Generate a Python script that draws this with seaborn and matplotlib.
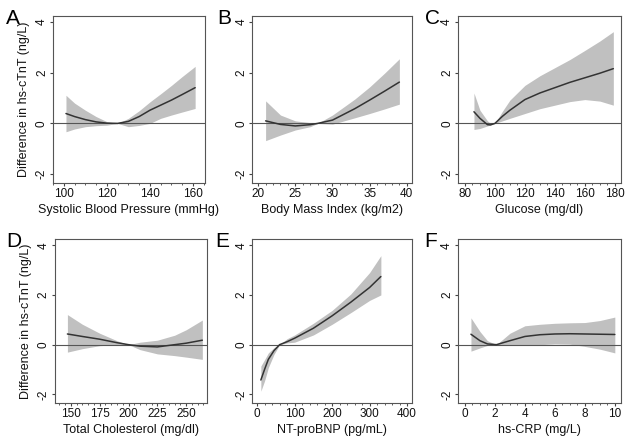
import pandas as pd
import matplotlib.pyplot as plt
import matplotlib.ticker as mticker
import seaborn as sns

sns.set_theme(style="ticks")
plt.rcParams['font.family'] = ['Liberation Sans', 'DejaVu Sans']
plt.rcParams['text.color'] = '#111111'
plt.rcParams['axes.labelcolor'] = '#111111'
plt.rcParams['xtick.labelcolor'] = '#111111'
plt.rcParams['ytick.labelcolor'] = '#111111'

# Panel A: systolic blood pressure
sbp_x = [101, 105, 110, 115, 120, 125, 130, 135, 140, 145, 150, 155, 161]
sbp_fit = [0.39, 0.27, 0.15, 0.06, 0.01, 0.0, 0.08, 0.27, 0.52, 0.72, 0.92, 1.14, 1.41]
sbp_lo = [-0.33, -0.22, -0.13, -0.09, -0.07, 0.0, -0.13, -0.08, 0.0, 0.2, 0.33, 0.45, 0.59]
sbp_hi = [1.11, 0.8, 0.52, 0.27, 0.07, 0.0, 0.2, 0.5, 0.85, 1.17, 1.5, 1.85, 2.25]

# Panel B: body mass index
bmi_x = [21, 23, 25, 27, 28, 30, 33, 35, 37, 39]
bmi_fit = [0.1, -0.04, -0.1, -0.05, 0.0, 0.13, 0.58, 0.92, 1.27, 1.63]
bmi_lo = [-0.68, -0.46, -0.26, -0.13, 0.0, -0.03, 0.22, 0.39, 0.57, 0.76]
bmi_hi = [0.89, 0.33, 0.1, 0.03, 0.0, 0.33, 0.96, 1.44, 1.98, 2.55]

# Panel C: glucose
glu_x = [86, 90, 95, 97, 100, 105, 110, 120, 130, 140, 150, 160, 170, 179]
glu_fit = [0.46, 0.2, -0.05, -0.06, 0.0, 0.28, 0.52, 0.94, 1.2, 1.41, 1.62, 1.8, 1.98, 2.16]
glu_lo = [-0.24, -0.2, -0.1, -0.06, 0.0, 0.1, 0.2, 0.39, 0.58, 0.72, 0.86, 0.94, 0.88, 0.72]
glu_hi = [1.2, 0.52, 0.1, 0.0, 0.0, 0.48, 0.92, 1.5, 1.88, 2.2, 2.52, 2.88, 3.25, 3.62]

# Panel D: total cholesterol
chol_x = [147, 160, 175, 190, 200, 210, 225, 240, 250, 264]
chol_fit = [0.43, 0.33, 0.22, 0.08, 0.0, -0.06, -0.09, 0.0, 0.06, 0.18]
chol_lo = [-0.3, -0.16, -0.04, 0.0, 0.0, -0.2, -0.37, -0.44, -0.5, -0.59]
chol_hi = [1.21, 0.82, 0.46, 0.16, 0.0, 0.1, 0.18, 0.38, 0.6, 0.99]

# Panel E: NT-proBNP
bnp_x = [10, 20, 30, 45, 60, 80, 100, 150, 200, 250, 300, 330]
bnp_fit = [-1.42, -0.99, -0.59, -0.24, 0.0, 0.12, 0.26, 0.66, 1.16, 1.71, 2.3, 2.74]
bnp_lo = [-1.87, -1.45, -0.92, -0.39, 0.0, 0.07, 0.1, 0.39, 0.82, 1.29, 1.78, 2.0]
bnp_hi = [-0.86, -0.6, -0.33, -0.12, 0.0, 0.24, 0.39, 0.86, 1.38, 2.04, 2.9, 3.58]

# Panel F: hs-CRP
crp_x = [0.4, 1.0, 1.5, 2.1, 3.0, 4.0, 5.0, 6.0, 7.0, 8.0, 9.0, 10.0]
crp_fit = [0.42, 0.16, 0.03, 0.0, 0.16, 0.33, 0.4, 0.43, 0.44, 0.43, 0.42, 0.41]
crp_lo = [-0.26, -0.13, -0.03, 0.0, -0.03, -0.03, 0.0, 0.03, 0.02, -0.07, -0.18, -0.33]
crp_hi = [1.08, 0.53, 0.16, 0.0, 0.46, 0.76, 0.82, 0.86, 0.88, 0.89, 0.97, 1.11]

panels = [
    ("A", sbp_x, sbp_fit, sbp_lo, sbp_hi, "Systolic Blood Pressure (mmHg)", (94.9, 165.6), [100, 120, 140, 160], 5),
    ("B", bmi_x, bmi_fit, bmi_lo, bmi_hi, "Body Mass Index (kg/m2)", (19.2, 40.7), [20, 25, 30, 35, 40], 1),
    ("C", glu_x, glu_fit, glu_lo, glu_hi, "Glucose (mg/dl)", (75.3, 184), [80, 100, 120, 140, 160, 180], 5),
    ("D", chol_x, chol_fit, chol_lo, chol_hi, "Total Cholesterol (mg/dl)", (136, 268), [150, 175, 200, 225, 250], 5),
    ("E", bnp_x, bnp_fit, bnp_lo, bnp_hi, "NT-proBNP (pg/mL)", (-13, 413), [0, 100, 200, 300, 400], 20),
    ("F", crp_x, crp_fit, crp_lo, crp_hi, "hs-CRP (mg/L)", (-0.47, 10.4), [0, 2, 4, 6, 8, 10], 0.5),
]

# axes rectangles [left, bottom, width, height] in figure fractions
rects = [
    [0.084, 0.587, 0.242, 0.377],
    [0.401, 0.587, 0.254, 0.377],
    [0.728, 0.587, 0.259, 0.377],
    [0.087, 0.090, 0.242, 0.370],
    [0.401, 0.090, 0.254, 0.370],
    [0.728, 0.090, 0.259, 0.370],
]
# panel letter offsets (axes fraction)
letter_x = [-0.31, -0.22, -0.205, -0.32, -0.23, -0.205]

fig = plt.figure(figsize=(6.29, 4.43), dpi=100)

for i, (letter, x, fit, lo, hi, xlabel, xlim, xticks, minor) in enumerate(panels):
    ax = fig.add_axes(rects[i])
    df = pd.DataFrame({"x": x, "fit": fit})
    ax.fill_between(x, lo, hi, color="#c0c0c0", linewidth=0, zorder=1)
    ax.axhline(0, color="#555555", linewidth=0.8, zorder=2)
    sns.lineplot(data=df, x="x", y="fit", ax=ax, color="#333333", linewidth=1.1, zorder=3)

    ax.set_xlim(*xlim)
    ax.set_ylim(-2.35, 4.24)
    ax.set_xticks(xticks)
    ax.xaxis.set_minor_locator(mticker.MultipleLocator(minor))
    ax.set_yticks([-2, 0, 2, 4])
    ax.set_yticklabels(["-2", "0", "2", "4"], rotation=90, va="center")
    ax.tick_params(axis="both", which="major", direction="out", length=2.5, width=0.8,
                   labelsize=8.5, color="#444444", pad=1)
    ax.tick_params(axis="x", which="minor", direction="out", length=1.5, width=0.6, color="#444444")
    for s in ax.spines.values():
        s.set_color("#555555")
        s.set_linewidth(0.8)
    ax.set_xlabel(xlabel, fontsize=9, labelpad=3)
    if i % 3 == 0:
        ax.set_ylabel("Difference in hs-cTnT (ng/L)", fontsize=9, labelpad=4)
    else:
        ax.set_ylabel("")
    ax.text(letter_x[i], 0.985, letter, transform=ax.transAxes,
            fontsize=15, ha="left", va="center", color="black")

fig.savefig("out.png", dpi=100)
